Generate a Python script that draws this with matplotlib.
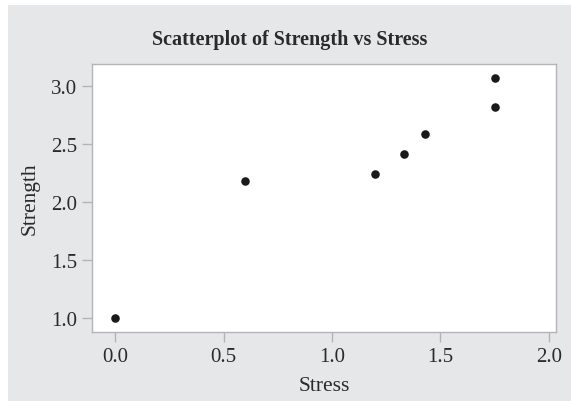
import matplotlib
matplotlib.use("Agg")
import matplotlib.pyplot as plt
from matplotlib.patches import Rectangle

# values
stress = [0.0, 0.60, 1.20, 1.33, 1.43, 1.75, 1.75]
strength = [1.00, 2.185, 2.24, 2.415, 2.59, 2.82, 3.065]
x_ticks = [0.0, 0.5, 1.0, 1.5, 2.0]
y_ticks = [1.0, 1.5, 2.0, 2.5, 3.0]

plt.rcParams["font.family"] = ["Liberation Serif", "DejaVu Serif"]

W, H = 571, 402
fig = plt.figure(figsize=(W / 100, H / 100), dpi=100, facecolor="white")
fig.patches.append(Rectangle((8 / W, 0), 1 - 8 / W, 1 - 6 / H,
                             transform=fig.transFigure, facecolor="#e6e7e9",
                             edgecolor="none", zorder=-1))

ax = fig.add_axes([92.3 / W, 1 - 333 / H, (556.3 - 92.3) / W, (333 - 65.3) / H])
ax.set_zorder(2)
ax.set_facecolor("white")
ax.scatter(stress, strength, s=38, color="#1a1a1a", zorder=3, linewidths=0)

ax.set_xlim(-0.106, 2.035)
ax.set_ylim(0.882, 3.187)
ax.set_xticks(x_ticks)
ax.set_yticks(y_ticks)
ax.set_xticklabels([f"{v:.1f}" for v in x_ticks])
ax.set_yticklabels([f"{v:.1f}" for v in y_ticks])

for s in ax.spines.values():
    s.set_color("#b4b4b8")
    s.set_linewidth(1.0)
ax.tick_params(direction="out", length=7, width=1, color="#b4b4b8",
               labelsize=15, labelcolor="#2a2a2a", pad=4)

ax.set_xlabel("Stress", fontsize=15.5, color="#2a2a2a", labelpad=7)
ax.set_ylabel("Strength", fontsize=15.5, color="#2a2a2a", labelpad=8)
fig.text(289.5 / W, 1 - 40 / H, "Scatterplot of Strength vs Stress",
         ha="center", va="center", fontsize=14.5, fontweight="bold", color="#2a2a2a")

fig.savefig("out.png", dpi=100, facecolor=fig.get_facecolor())
